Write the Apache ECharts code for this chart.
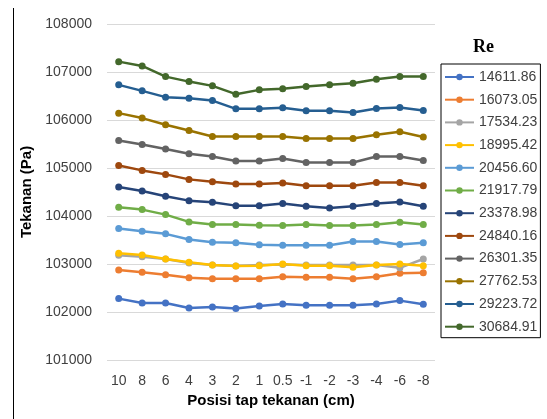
<!DOCTYPE html>
<html>
<head>
<meta charset="utf-8">
<script src="https://cdn.jsdelivr.net/npm/echarts@6/dist/echarts.min.js"></script>
<style>
  html, body { margin: 0; padding: 0; background: #fff; }
  #chart { width: 547px; height: 419px; }
</style>
</head>
<body>
<div id="chart"></div>
<script>
// posisi tap tekanan (cm)
const positions = ['10', '8', '6', '4', '3', '2', '1', '0.5', '-1', '-2', '-3', '-4', '-6', '-8'];

// bilangan Reynolds (legenda)
const reNames = ['14611.86', '16073.05', '17534.23', '18995.42', '20456.60', '21917.79',
                 '23378.98', '24840.16', '26301.35', '27762.53', '29223.72', '30684.91'];

// tekanan (Pa) per Re
const re14611 = [102279, 102188, 102188, 102083, 102104, 102071, 102125, 102167, 102140, 102140, 102140, 102167, 102237, 102160];
const re16073 = [102875, 102827, 102777, 102715, 102694, 102694, 102694, 102735, 102723, 102723, 102694, 102735, 102806, 102819];
const re17534 = [103180, 103150, 103104, 103020, 102979, 102958, 102979, 102990, 102979, 102979, 102979, 102979, 102920, 103104];
const re18995 = [103223, 103188, 103104, 103035, 102979, 102958, 102965, 103000, 102965, 102965, 102931, 102979, 103000, 102965];
const re20456 = [103738, 103682, 103628, 103509, 103453, 103441, 103399, 103391, 103391, 103391, 103468, 103468, 103405, 103441];
const re21917 = [104181, 104133, 104029, 103877, 103821, 103821, 103807, 103800, 103821, 103800, 103800, 103821, 103869, 103821];
const re23378 = [104605, 104522, 104410, 104320, 104285, 104216, 104216, 104258, 104202, 104168, 104202, 104258, 104293, 104202];
const re24840 = [105054, 104950, 104867, 104763, 104715, 104667, 104667, 104688, 104632, 104632, 104632, 104700, 104700, 104632];
const re26301 = [105574, 105491, 105395, 105297, 105241, 105146, 105146, 105200, 105116, 105116, 105116, 105241, 105241, 105158];
const re27762 = [106143, 106040, 105900, 105782, 105657, 105657, 105657, 105657, 105615, 105615, 105615, 105692, 105755, 105644];
const re29223 = [106732, 106607, 106476, 106455, 106405, 106233, 106233, 106254, 106191, 106191, 106156, 106239, 106260, 106198];
const re30684 = [107216, 107127, 106904, 106800, 106711, 106538, 106628, 106649, 106696, 106732, 106767, 106850, 106904, 106904];

// sumbu Y
const yMin = 101000;
const yMax = 108000;
const yStep = 1000;

const allSeries = [re14611, re16073, re17534, re18995, re20456, re21917,
                   re23378, re24840, re26301, re27762, re29223, re30684];

const colors = ['#4472C4', '#ED7D31', '#A5A5A5', '#FFC000', '#5B9BD5', '#70AD47',
                '#264478', '#9E480E', '#636363', '#997300', '#255E91', '#43682B'];

const chart = echarts.init(document.getElementById('chart'));

const font = 'Liberation Sans, Arial, sans-serif';

const option = {
    animation: false,
    color: colors,
    title: {
        text: 'Re',
        left: 473,
        top: 38,
        padding: 0,
        textStyle: {
            fontFamily: 'Liberation Serif, serif',
            fontWeight: 'bold',
            fontSize: 18,
            color: '#000'
        }
    },
    legend: {
        orient: 'vertical',
        left: 441,
        top: 64,
        padding: [6, 3, 4, 3],
        borderColor: '#000',
        borderWidth: 1,
        itemWidth: 29,
        itemHeight: 8,
        itemGap: 8.7,
        textStyle: {
            fontFamily: font,
            fontSize: 14,
            color: '#404040'
        },
        data: reNames
    },
    grid: {
        left: 107,
        right: 112,
        top: 24,
        bottom: 59
    },
    xAxis: {
        type: 'category',
        data: positions,
        boundaryGap: true,
        name: 'Posisi tap tekanan (cm)',
        nameLocation: 'middle',
        nameGap: 33,
        nameTextStyle: {
            fontFamily: font,
            fontWeight: 'bold',
            fontSize: 15,
            color: '#000'
        },
        axisLine: { show: false },
        axisTick: { show: false },
        axisLabel: {
            interval: 0,
            margin: 14,
            fontFamily: font,
            fontSize: 14,
            color: '#404040'
        }
    },
    yAxis: {
        type: 'value',
        min: yMin,
        max: yMax,
        interval: yStep,
        name: 'Tekanan (Pa)',
        nameLocation: 'middle',
        nameGap: 52,
        nameTextStyle: {
            fontFamily: font,
            fontWeight: 'bold',
            fontSize: 15,
            color: '#000'
        },
        axisLine: { show: false },
        axisTick: { show: false },
        axisLabel: {
            margin: 15,
            fontFamily: font,
            fontSize: 14,
            color: '#404040',
            formatter: (v) => String(v)
        },
        splitLine: {
            lineStyle: { color: '#D9D9D9', width: 1 }
        }
    },
    graphic: [
        {
            type: 'line',
            shape: { x1: 13.5, y1: 8, x2: 13.5, y2: 419 },
            style: { stroke: '#000', lineWidth: 1 }
        }
    ],
    series: allSeries.map((vals, i) => ({
        name: reNames[i],
        type: 'line',
        data: vals,
        symbol: 'circle',
        symbolSize: 7,
        lineStyle: { width: 2.5 },
        emphasis: { disabled: true }
    }))
};

chart.setOption(option);
</script>
</body>
</html>
